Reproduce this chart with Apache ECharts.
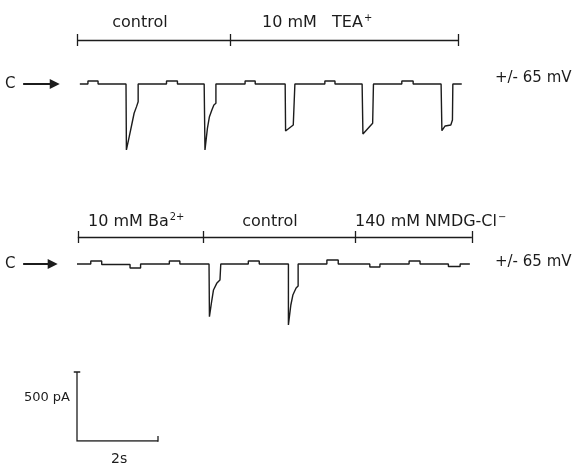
<!DOCTYPE html>
<html>
<head>
<meta charset="utf-8">
<script src="https://cdn.jsdelivr.net/npm/echarts@6/dist/echarts.min.js"></script>
<style>
  html, body { margin: 0; padding: 0; background: #fff; }
  #chart { width: 576px; height: 465px; }
</style>
</head>
<body>
<div id="chart"></div>
<script>
// time in s, current in pA
const topTrace = [
  [0.07, 0], [0.27, 0], [0.27, 22], [0.52, 22], [0.52, 0],
  [1.21, 0], [1.22, -478], [1.23, -478], [1.29, -382], [1.35, -297], [1.41, -212], [1.47, -164], [1.51, -128], [1.51, 0],
  [2.21, 0], [2.21, 22], [2.48, 22], [2.48, 0],
  [3.14, 0], [3.16, -478], [3.22, -321], [3.27, -237], [3.33, -188], [3.38, -152], [3.43, -140], [3.43, 0],
  [4.15, 0], [4.15, 22], [4.40, 22], [4.40, 0],
  [5.14, 0], [5.15, -341], [5.34, -297], [5.38, -297], [5.38, 0],
  [6.12, 0], [6.12, 22], [6.37, 22], [6.37, 0],
  [7.04, 0], [7.06, -362], [7.30, -285], [7.32, -285], [7.32, 0],
  [8.02, 0], [8.02, 22], [8.30, 22], [8.30, 0],
  [8.99, 0], [9.01, -338], [9.09, -304], [9.23, -297], [9.27, -261], [9.28, 0],
  [9.50, 0]
];
const bottomTrace = [
  [0.00, 0], [0.34, 0], [0.34, 22], [0.61, 22], [0.61, -4],
  [1.31, -4], [1.31, -29], [1.57, -29], [1.57, 0],
  [2.28, 0], [2.28, 22], [2.54, 22], [2.54, 0],
  [3.26, 0], [3.27, -382], [3.33, -261], [3.37, -188], [3.45, -140], [3.53, -116], [3.55, -116], [3.55, 0],
  [4.23, 0], [4.23, 22], [4.50, 22], [4.50, 0],
  [5.22, 0], [5.22, -442], [5.28, -297], [5.33, -225], [5.41, -174], [5.46, -159], [5.46, 0],
  [6.17, 0], [6.17, 29], [6.45, 29], [6.45, 0],
  [7.23, 0], [7.23, -22], [7.48, -22], [7.48, 0],
  [8.20, 0], [8.20, 22], [8.47, 22], [8.47, 0],
  [9.17, 0], [9.17, -18], [9.46, -18], [9.46, 0],
  [9.70, 0]
];

// solution change marks (s)
const topMarks = [0, 3.78, 9.41];
const bottomMarks = [0.02, 3.11, 6.86, 9.75];
const topLabels = ['control', '10 mM   TEA'];
const bottomLabels = ['10 mM Ba', 'control', '140 mM NMDG-Cl'];

// calibration
const scaleCurrent = 500; // pA
const scaleTime = 2;      // s

const pxPerS = 40.5, pxPerPA = 0.138;
const xMin = -1.8, xMax = 12.2;
const left = 77 + xMin * pxPerS;
const width = (xMax - xMin) * pxPerS;
const ink = '#1c1c1c';
const font = '"DejaVu Sans", sans-serif';

function traceGrid(baseY) {
  return { left: left, width: width, top: baseY - 400 * pxPerPA, height: 1000 * pxPerPA };
}
const grids = [traceGrid(84), traceGrid(264),
  { left: left, width: width, top: 441 - 600 * pxPerPA, height: 600 * pxPerPA }];

const xAxes = grids.map((g, i) => ({ gridIndex: i, type: 'value', min: xMin, max: xMax, show: false }));
const yAxes = [
  { gridIndex: 0, type: 'value', min: -600, max: 400, show: false },
  { gridIndex: 1, type: 'value', min: -600, max: 400, show: false },
  { gridIndex: 2, type: 'value', min: 0, max: 600, show: false }
];

function barSegments(marks, level) {
  const segs = [{ coords: [[marks[0], level], [marks[marks.length - 1], level]] }];
  marks.forEach(m => segs.push({ coords: [[m, level - 43], [m, level + 43]] }));
  return segs;
}

const traceStyle = { color: ink, width: 1.4 };
const series = [
  { type: 'line', xAxisIndex: 0, yAxisIndex: 0, data: topTrace, showSymbol: false,
    lineStyle: traceStyle, clip: false, animation: false },
  { type: 'line', xAxisIndex: 1, yAxisIndex: 1, data: bottomTrace, showSymbol: false,
    lineStyle: traceStyle, clip: false, animation: false },
  { type: 'lines', coordinateSystem: 'cartesian2d', xAxisIndex: 0, yAxisIndex: 0,
    data: barSegments(topMarks, 319), lineStyle: { color: ink, width: 1.3, opacity: 1 }, animation: false },
  { type: 'lines', coordinateSystem: 'cartesian2d', xAxisIndex: 1, yAxisIndex: 1,
    data: barSegments(bottomMarks, 196), lineStyle: { color: ink, width: 1.3, opacity: 1 }, animation: false },
  // arrows "C ->"
  { type: 'lines', coordinateSystem: 'cartesian2d', xAxisIndex: 0, yAxisIndex: 0,
    data: [{ coords: [[-1.33, 0], [-0.55, 0]] }], symbol: ['none', 'triangle'], symbolSize: [7, 10],
    lineStyle: { color: ink, width: 2.2, opacity: 1 }, animation: false },
  { type: 'lines', coordinateSystem: 'cartesian2d', xAxisIndex: 1, yAxisIndex: 1,
    data: [{ coords: [[-1.33, 0], [-0.6, 0]] }], symbol: ['none', 'triangle'], symbolSize: [7, 10],
    lineStyle: { color: ink, width: 2.2, opacity: 1 }, animation: false },
  // calibration bars
  { type: 'lines', coordinateSystem: 'cartesian2d', xAxisIndex: 2, yAxisIndex: 2,
    data: [
      { coords: [[0, scaleCurrent], [0, 0], [scaleTime, 0]] },
      { coords: [[-0.08, scaleCurrent], [0.08, scaleCurrent]] },
      { coords: [[scaleTime, -36], [scaleTime, 36]] }
    ], polyline: true, lineStyle: { color: ink, width: 1.3, opacity: 1 }, animation: false }
];

function text(x, y, str, size, align) {
  return { type: 'text', x: x, y: y,
    style: { text: str, font: size + 'px ' + font, fill: ink, textAlign: align || 'left', textVerticalAlign: 'middle' } };
}
function supText(x, y, base, sup, size) {
  return { type: 'text', x: x, y: y,
    style: { text: '{b|' + base + '}{s|' + sup + '}', fill: ink, textVerticalAlign: 'middle',
      rich: { b: { fontSize: size, fontFamily: font, color: ink },
              s: { fontSize: size * 0.62, fontFamily: font, color: ink, verticalAlign: 'top', padding: [0, 0, 9, 1] } } } };
}

const graphic = [
  text(140, 23, topLabels[0], 16, 'center'),
  supText(262, 23, topLabels[1], '+', 16),
  supText(88, 222, bottomLabels[0], '2+', 16),
  text(270, 222, bottomLabels[1], 16, 'center'),
  supText(355, 222, bottomLabels[2], '\u2212', 16),
  text(5, 84, 'C', 15),
  text(5, 264, 'C', 15),
  text(495, 78, '+/- 65 mV', 15),
  text(495, 262, '+/- 65 mV', 15),
  text(70, 398, '500 pA', 13, 'right'),
  text(111, 459, '2s', 14)
];

const chart = echarts.init(document.getElementById('chart'));
chart.setOption({
  backgroundColor: '#fff',
  animation: false,
  grid: grids,
  xAxis: xAxes,
  yAxis: yAxes,
  series: series,
  graphic: graphic
});
</script>
</body>
</html>
